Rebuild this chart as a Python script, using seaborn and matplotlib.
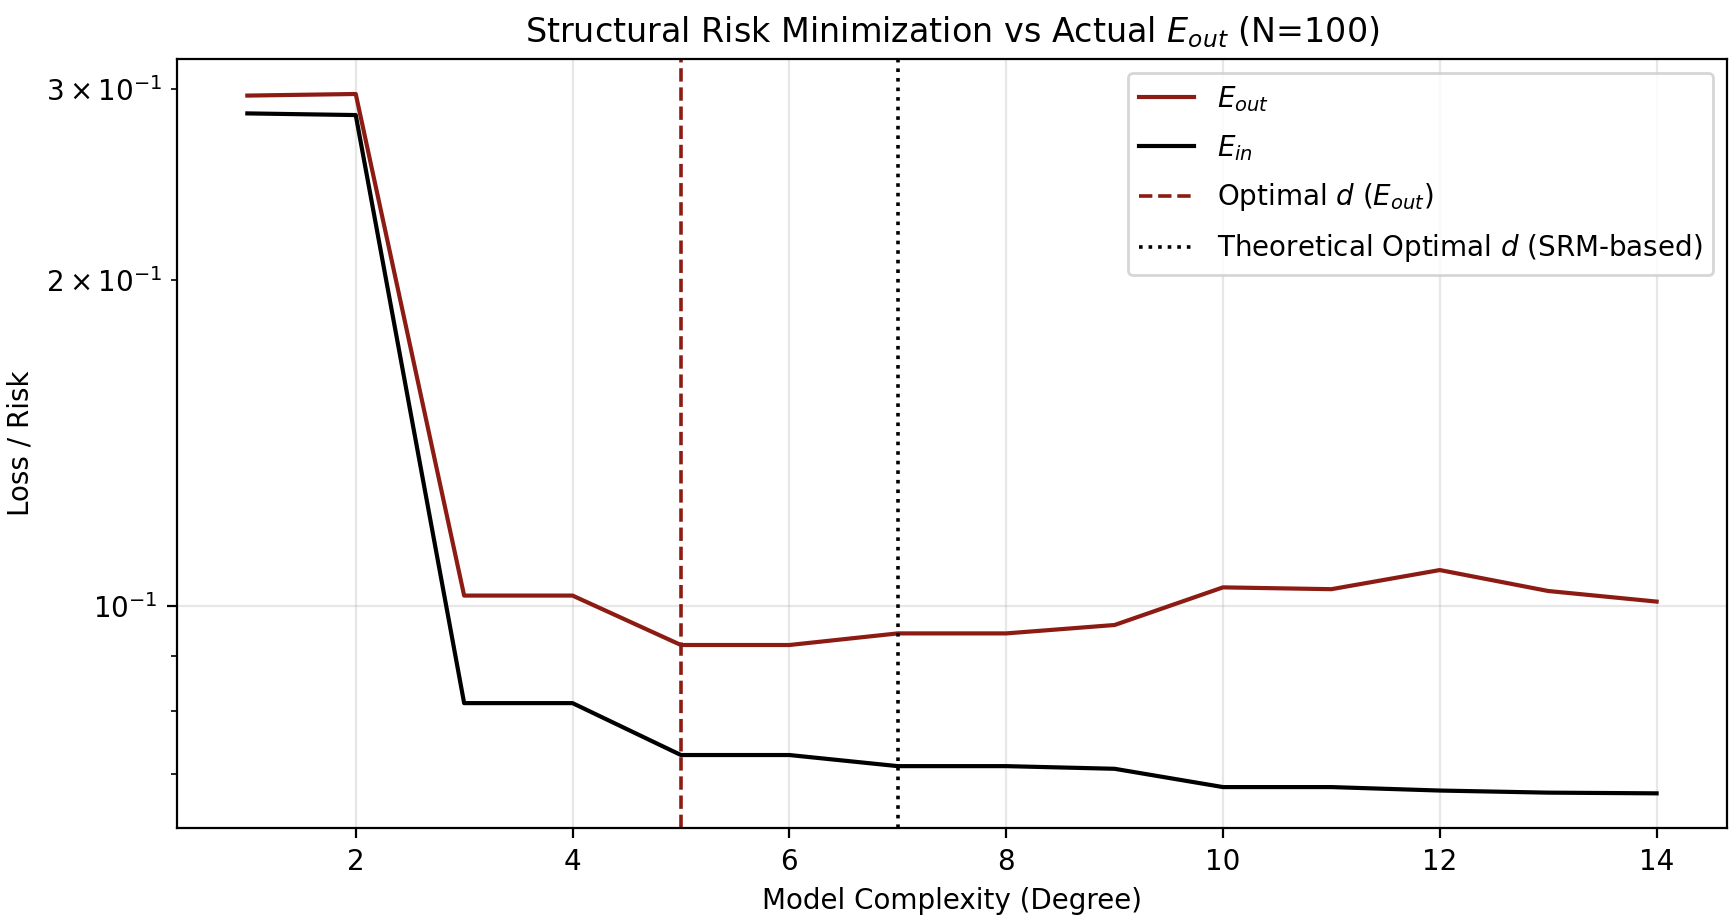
import numpy as np
import pandas as pd
import matplotlib
matplotlib.use("Agg")
import matplotlib.pyplot as plt
import seaborn as sns

# values
degrees = [1, 2, 3, 4, 5, 6, 7, 8, 9, 10, 11, 12, 13, 14]
e_out = [0.296, 0.297, 0.1023, 0.1023, 0.0921, 0.0921, 0.0944, 0.0944,
         0.0961, 0.1041, 0.1037, 0.1080, 0.1033, 0.1010]
e_in = [0.285, 0.284, 0.0814, 0.0814, 0.0729, 0.0729, 0.0712, 0.0712,
        0.0708, 0.0681, 0.0681, 0.0676, 0.0673, 0.0672]
best_d_eout = 5
best_d_srm = 7

df = pd.DataFrame({"degree": degrees, "E_out": e_out, "E_in": e_in})

red = "#8c1c13"

fig, ax = plt.subplots(figsize=(1734 / 200, 918 / 200), dpi=200)
fig.subplots_adjust(left=0.102, right=0.996, top=0.9357, bottom=0.0977)

sns.lineplot(data=df, x="degree", y="E_out", color=red, lw=1.5,
             label=r"$E_{out}$", ax=ax)
sns.lineplot(data=df, x="degree", y="E_in", color="black", lw=1.5,
             label=r"$E_{in}$", ax=ax)
ax.axvline(best_d_eout, color=red, ls="--", lw=1.3,
           label=r"Optimal $d$ ($E_{out}$)")
ax.axvline(best_d_srm, color="black", ls=":", lw=1.3,
           label=r"Theoretical Optimal $d$ (SRM-based)")

ax.set_yscale("log")
ax.grid(True, alpha=0.3)
ax.set_xlabel("Model Complexity (Degree)", fontsize=10)
ax.set_ylabel("Loss / Risk", fontsize=10)
ax.set_title(r"Structural Risk Minimization vs Actual $E_{out}$ (N=100)", fontsize=12)
ax.tick_params(labelsize=10)
ax.legend(loc="upper right", fontsize=10, labelspacing=0.68)

fig.savefig("out.png", dpi=200)
